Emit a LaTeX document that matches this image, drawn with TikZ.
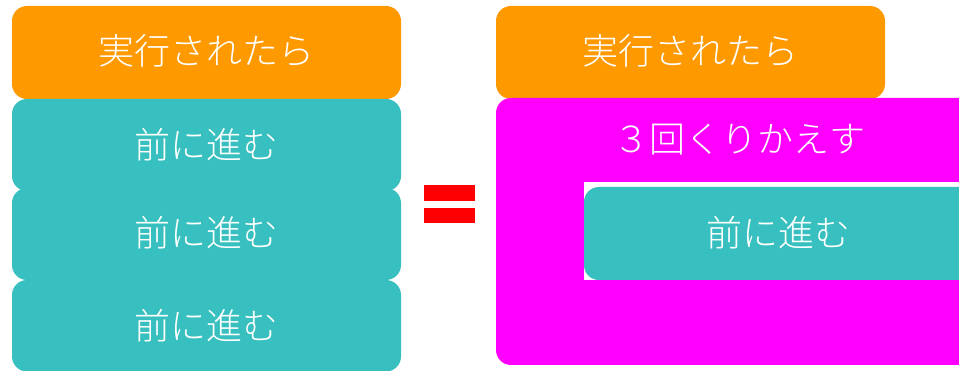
\documentclass[tikz,border=0pt]{standalone}
\usepackage{fontspec}
\newfontfamily\cjk{Noto Sans CJK JP Light}
\definecolor{orangeb}{HTML}{FF9900}
\definecolor{tealb}{HTML}{38BFBF}
\definecolor{magb}{HTML}{FF00FF}
\tikzset{
 x=1pt,y=-1pt,
 lab/.style={text=white,font=\cjk\fontsize{36}{40}\selectfont,inner sep=0pt},
 orangebox/.style={fill=orangeb,rounded corners=15},
 tealbox/.style={fill=tealb,rounded corners=15},
 magbox/.style={fill=magb,rounded corners=15},
 eqbar/.style={fill=red},
}
\begin{document}
\begin{tikzpicture}
\useasboundingbox (0,0) rectangle (959,371);
\fill[white] (0,0) rectangle (959,371);
\path[orangebox] (12,6) rectangle (401,99);
\node[lab] (a1) at (206,51) {実行されたら};
\path[tealbox] (12,99) rectangle (401,191);
\node[lab] (a2) at (206,145) {前に進む};
\path[tealbox] (12,188) rectangle (401,280);
\node[lab] (a3) at (206,233) {前に進む};
\path[tealbox] (12,280) rectangle (401,371.5);
\node[lab] (a4) at (206,326) {前に進む};
\path[eqbar] (424,185) rectangle (475,200.7);
\path[eqbar] (424,208) rectangle (475,223.5);
\path[orangebox] (496,6) rectangle (885,99);
\node[lab] (b1) at (690,51) {実行されたら};
\path[magbox] (496,98) rectangle (1000,365);
\fill[white] (584,182.5) rectangle (959,280);
\path[tealbox] (584,187) rectangle (1000,280);
\node[lab] (b2) at (739,140) {３回くりかえす};
\node[lab] (b3) at (778,233) {前に進む};
\end{tikzpicture}
\end{document}
